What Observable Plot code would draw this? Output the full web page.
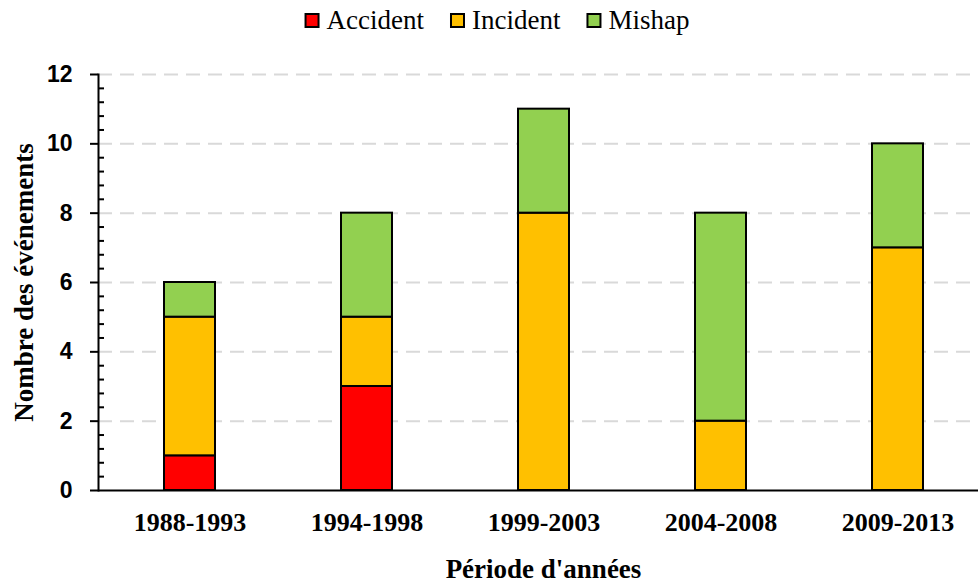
<!DOCTYPE html>
<html><head><meta charset="utf-8">
<script src="https://cdn.jsdelivr.net/npm/d3@7"></script>
<script src="https://cdn.jsdelivr.net/npm/@observablehq/plot@0.6"></script>
<style>
body{margin:0;background:#fff;}
#legend svg{display:block;}
</style>
</head><body>
<div id="legend"></div>
<div id="chart"></div>
<script>
const periods = ["1988-1993","1994-1998","1999-2003","2004-2008","2009-2013"];
const types = ["Accident","Incident","Mishap"];
const accident = [1,3,0,0,0];
const incident = [4,2,8,2,7];
const mishap = [1,3,3,6,3];
const colors = ["#ff0000","#ffc000","#92d050"];
const yMajor = [0,2,4,6,8,10,12];
const yGrid = [2,4,6,8,10,12];
const yMinor = d3.range(0, 12.001, 0.4).filter(v => Math.abs(v/2 - Math.round(v/2)) > 1e-6);
const xTitle = "Période d'années";
const yTitle = "Nombre des événements";

const series = [accident, incident, mishap];
const rows = [];
periods.forEach((p,i) => series.forEach((s,j) => rows.push({period:p, type:types[j], value:s[i]})));

const chart = Plot.plot({
  width:978, height:545, marginTop:32, marginBottom:97, marginLeft:98, marginRight:0,
  style:{background:"#fff", overflow:"visible", fontFamily:"Liberation Serif"},
  x:{domain:periods, range:[99,987], paddingInner:0.713, paddingOuter:0.3565, axis:null},
  y:{domain:[0,12], axis:null},
  color:{domain:types, range:colors},
  marks:[
    Plot.ruleY(yGrid, {stroke:"#d9d9d9", strokeWidth:2, strokeDasharray:"14,8"}),
    Plot.barY(rows.filter(d => d.value > 0), Plot.stackY({x:"period", y:"value", fill:"type", stroke:"#000", strokeWidth:2})),
    Plot.frame({anchor:"left", stroke:"#000", strokeWidth:2}),
    Plot.ruleY([0], {stroke:"#000", strokeWidth:2}),
    Plot.axisY(yMajor, {tickSize:8, tickPadding:18, strokeWidth:2, fontSize:23, fontWeight:"bold", fontFamily:"Liberation Sans", label:null, tickFormat:d => String(d)}),
    Plot.axisY(yMinor, {tickSize:6, dx:6, strokeWidth:2, tickFormat:() => "", label:null}),
    Plot.axisX({tickSize:0, tickPadding:22, fontSize:26, fontWeight:"bold", fontFamily:"Liberation Serif", label:null}),
    Plot.text([yTitle], {text:d => d, frameAnchor:"left", textAnchor:"middle", rotate:-90, dx:-74, fontSize:27, fontWeight:"bold", fontFamily:"Liberation Serif", fill:"#000"}),
    Plot.text([xTitle], {text:d => d, frameAnchor:"bottom", dy:87, dx:5, lineAnchor:"bottom", fontSize:27, fontWeight:"bold", fontFamily:"Liberation Serif", fill:"#000"})
  ]
});
document.getElementById("chart").appendChild(chart);

// Legend drawn from the plot's own color scale
const color = chart.scale("color");
const lsvg = d3.select("#legend").append("svg").attr("width", 978).attr("height", 42);
const items = lsvg.selectAll("g").data(types).join("g");
items.append("rect").attr("x", 1).attr("y", 14).attr("width", 13).attr("height", 13)
  .attr("fill", d => color.apply(d)).attr("stroke", "#000").attr("stroke-width", 2);
const labels = items.append("text").attr("x", 22).attr("y", 29)
  .attr("font-family", "Liberation Serif").attr("font-size", 27).attr("fill", "#000").text(d => d);
const widths = labels.nodes().map(n => n.getComputedTextLength());
const itemW = widths.map(w => 22 + w);
const total = d3.sum(itemW) + 26 * (types.length - 1);
let x0 = (978 - total) / 2 + 8;
items.attr("transform", (d, i) => {
  const t = `translate(${x0},0)`;
  x0 += itemW[i] + 26;
  return t;
});
</script>
</body></html>
